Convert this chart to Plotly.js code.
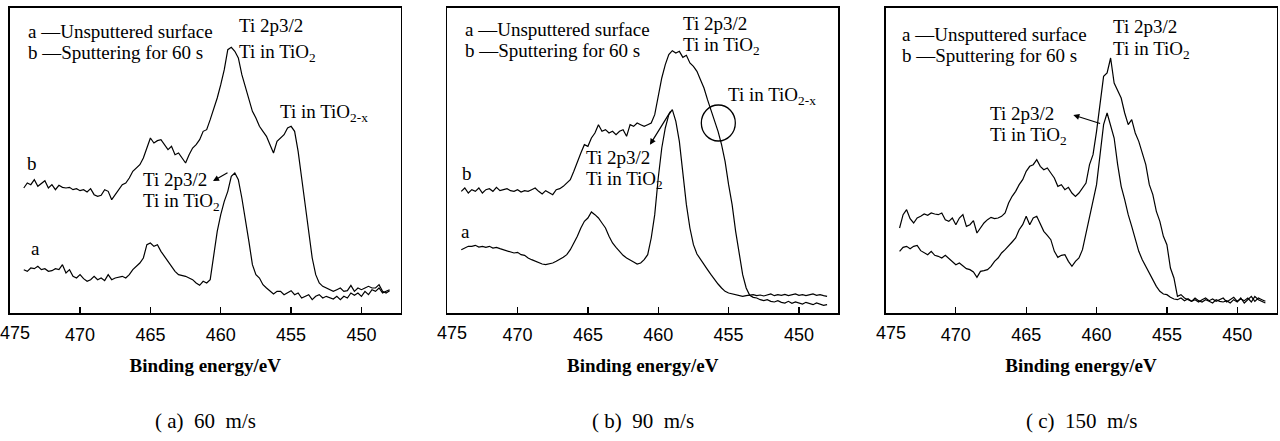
<!DOCTYPE html>
<html>
<head>
<meta charset="utf-8">
<script src="https://cdn.plot.ly/plotly-3.0.1.min.js"></script>
<style>html,body{margin:0;padding:0;background:#fff;}#chart{width:1280px;height:441px;}</style>
</head>
<body>
<div id="chart"></div>
<script>
// Binding energy grid (eV), shared by all spectra
const energy = [474,473.75,473.5,473.25,473,472.75,472.5,472.25,472,471.75,471.5,471.25,471,470.75,470.5,470.25,470,469.75,469.5,469.25,469,468.75,468.5,468.25,468,467.75,467.5,467.25,467,466.75,466.5,466.25,466,465.75,465.5,465.25,465,464.75,464.5,464.25,464,463.75,463.5,463.25,463,462.75,462.5,462.25,462,461.75,461.5,461.25,461,460.75,460.5,460.25,460,459.75,459.5,459.25,459,458.75,458.5,458.25,458,457.75,457.5,457.25,457,456.75,456.5,456.25,456,455.75,455.5,455.25,455,454.75,454.5,454.25,454,453.75,453.5,453.25,453,452.75,452.5,452.25,452,451.75,451.5,451.25,451,450.75,450.5,450.25,450,449.75,449.5,449.25,449,448.75,448.5,448.25,448];

// (a) 60 m/s
const a60_unsputtered = [130,125,135,133,140,130,133,125,127,133,130,145,120,130,110,105,115,103,95,100,110,100,105,97,115,100,105,107,110,105,115,130,140,150,165,205,210,200,205,185,170,155,140,125,115,113,110,105,100,90,83,95,90,100,175,245,295,335,365,410,420,400,345,285,215,145,115,105,85,75,65,57,65,65,55,60,67,55,60,45,50,55,40,50,55,45,50,47,42,50,40,50,45,60,53,60,50,65,55,70,65,75,60,65,70];
const a60_sputtered = [375,390,385,400,380,390,397,375,385,370,383,377,375,377,370,373,367,370,363,373,355,350,353,370,365,340,355,370,385,390,405,425,435,445,465,495,525,510,517,520,505,490,500,475,480,465,450,475,495,505,520,545,550,580,610,645,685,730,790,797,785,765,715,680,645,605,585,560,545,530,505,480,515,525,535,555,560,545,485,405,325,245,165,115,90,80,75,70,65,70,75,65,67,83,65,75,70,75,80,75,75,85,65,60,67];

// (b) 90 m/s
const b90_unsputtered = [190,195,200,200,203,198,200,197,200,195,197,193,190,187,185,180,182,175,173,165,160,155,150,147,145,147,150,155,160,167,175,190,210,230,255,275,285,303,295,285,270,255,230,210,197,185,173,165,160,153,147,150,160,175,225,295,405,495,555,595,610,575,515,425,325,255,205,177,160,145,130,115,100,87,75,65,60,58,55,53,50,52,53,55,52,54,51,55,57,52,55,53,56,52,54,57,53,55,52,55,57,53,55,52,50];
const b90_sputtered = [365,375,360,370,365,375,360,370,373,365,377,367,370,373,367,365,370,363,367,365,370,375,365,357,367,360,355,370,373,380,390,400,425,455,480,505,500,525,540,565,545,550,540,545,535,545,550,530,565,560,570,565,560,565,570,595,650,705,745,775,787,780,785,767,773,750,740,725,700,675,640,610,580,545,505,455,385,325,245,175,115,75,53,47,45,40,37,40,35,33,37,32,30,35,29,33,30,27,32,29,25,30,27,23,25];

// (c) 150 m/s
const c150_unsputtered = [185,197,200,193,200,203,187,180,175,185,173,170,165,173,163,155,145,150,140,133,130,123,107,125,127,130,140,155,165,180,190,200,213,225,250,265,290,265,285,290,265,245,233,220,185,167,173,175,155,140,155,165,190,240,280,330,385,475,565,600,565,525,445,380,340,295,260,220,185,160,140,120,100,80,65,57,55,47,42,40,45,37,43,35,40,33,40,45,37,42,35,40,45,33,40,47,35,42,37,45,33,50,40,35,30];
const c150_sputtered = [255,295,310,283,270,285,290,297,293,300,297,295,300,280,275,285,265,285,295,260,265,277,240,255,270,280,287,283,285,290,300,330,350,365,385,400,425,440,445,460,440,430,435,420,405,380,385,370,377,360,350,360,375,390,445,475,545,635,710,720,765,690,665,645,600,565,580,540,515,480,445,385,355,305,275,230,205,135,105,50,55,45,40,35,45,37,33,40,35,30,40,35,33,37,30,40,33,45,30,40,50,35,45,40,35];

const tickVals = [475,470,465,460,455,450];
const tickText = ['475','470','465','460','455','450'];
const captions = ['(\u00A0a)\u00A0\u00A060\u00A0\u00A0m/s','(\u00A0b)\u00A0\u00A090\u00A0\u00A0m/s','(\u00A0c)\u00A0\u00A0150\u00A0\u00A0m/s'];
const legendA = 'a \u2014Unsputtered surface';
const legendB = 'b \u2014Sputtering for 60 s';
const peakLine1 = 'Ti 2p3/2';
const peakLine2 = 'Ti in TiO<sub>2</sub>';
const subOxide = 'Ti in TiO<sub>2-x</sub>';
const axisTitle = 'Binding energy/eV';

const series = [
  [a60_unsputtered, a60_sputtered],
  [b90_unsputtered, b90_sputtered],
  [c150_unsputtered, c150_sputtered]
];

const W = 1280, H = 441;
const plotLeft = [9.7, 447.2, 885.5];
const plotW = 391;
const plotTop = 8, plotBottom = 313;
const xRange = [475, 475 - plotW / 14.07];
const yRange = [0, 915];

const serif = 'Liberation Serif, Times New Roman, serif';
const sans = 'Liberation Sans, Arial, sans-serif';

const traces = [];
const layout = {
  width: W, height: H,
  margin: {l: 0, r: 0, t: 0, b: 0},
  paper_bgcolor: '#fff', plot_bgcolor: '#fff',
  showlegend: false,
  annotations: [],
  shapes: []
};

series.forEach((pair, k) => {
  const xs = k === 0 ? 'x' : 'x' + (k + 1);
  const ys = k === 0 ? 'y' : 'y' + (k + 1);
  pair.forEach(vals => {
    traces.push({x: energy, y: vals, xaxis: xs, yaxis: ys, type: 'scatter', mode: 'lines',
      line: {color: '#000', width: 1.2}, hoverinfo: 'skip'});
  });
  const xk = k === 0 ? 'xaxis' : 'xaxis' + (k + 1);
  const yk = k === 0 ? 'yaxis' : 'yaxis' + (k + 1);
  layout[xk] = {
    domain: [plotLeft[k] / W, (plotLeft[k] + plotW) / W],
    range: xRange, anchor: ys,
    showgrid: false, zeroline: false,
    showline: true, mirror: true, linecolor: '#000', linewidth: 1.6,
    ticks: 'inside', ticklen: 6, tickwidth: 1.3, tickcolor: '#000',
    tickvals: tickVals.slice(1), ticktext: tickText.slice(1),
    tickfont: {family: sans, size: 18, color: '#000'},
    ticklabelstandoff: 5,
    title: {text: '<b>' + axisTitle + '</b>', font: {family: serif, size: 19, color: '#000'}, standoff: 14}
  };
  layout[yk] = {
    domain: [1 - plotBottom / H, 1 - plotTop / H],
    range: yRange, anchor: xs,
    showgrid: false, zeroline: false, showticklabels: false, ticks: '',
    showline: true, mirror: true, linecolor: '#000', linewidth: 1.6
  };
  // first tick label, nudged inside like the original
  layout.annotations.push({xref: xs, yref: 'paper', x: tickVals[0], y: (H - 333) / H,
    text: tickText[0], showarrow: false, xanchor: 'center', yanchor: 'middle', xshift: 5,
    font: {family: sans, size: 18, color: '#000'}});
  // caption
  layout.annotations.push({xref: 'paper', yref: 'paper', x: (plotLeft[k] + plotW / 2) / W, y: (H - 421) / H,
    text: captions[k], showarrow: false, xanchor: 'center', yanchor: 'middle',
    font: {family: serif, size: 21, color: '#000'}});
});

function txt(ax, x, y, text, anchor) {
  const xs = ax === 0 ? 'x' : 'x' + (ax + 1);
  const ys = ax === 0 ? 'y' : 'y' + (ax + 1);
  layout.annotations.push({xref: xs, yref: ys, x: x, y: y, text: text, showarrow: false,
    xanchor: anchor || 'left', yanchor: 'middle', font: {family: serif, size: 19, color: '#000'}});
}
function arrow(ax, x, y, dx, dy) {
  const xs = ax === 0 ? 'x' : 'x' + (ax + 1);
  const ys = ax === 0 ? 'y' : 'y' + (ax + 1);
  layout.annotations.push({xref: xs, yref: ys, x: x, y: y, text: '', showarrow: true,
    ax: dx, ay: dy, arrowhead: 2, arrowsize: 1, arrowwidth: 1.2, arrowcolor: '#000', standoff: 0, startstandoff: 0});
}

// Panel (a)
txt(0, 473.85, 843, legendA);
txt(0, 473.85, 780, legendB);
txt(0, 458.85, 861, peakLine1);
txt(0, 458.85, 780, peakLine2);
txt(0, 455.95, 600, subOxide);
txt(0, 473.41, 450, 'b', 'center');
txt(0, 473.2, 195, 'a', 'center');
txt(0, 465.7, 402, peakLine1);
txt(0, 465.7, 334, peakLine2);
arrow(0, 460.55, 396, 16, -9);

// Panel (b)
txt(1, 473.9, 849, legendA);
txt(1, 473.9, 786, legendB);
txt(1, 458.4, 867, peakLine1);
txt(1, 458.4, 801, peakLine2);
txt(1, 455.2, 651, subOxide);
txt(1, 473.61, 420, 'b', 'center');
txt(1, 473.73, 246, 'a', 'center');
txt(1, 465.3, 468, peakLine1);
txt(1, 465.3, 399, peakLine2);
arrow(1, 460.59, 505, 21.7, -35);
layout.shapes.push({type: 'circle', xref: 'x2', yref: 'y2', xsizemode: 'pixel', ysizemode: 'pixel',
  xanchor: 455.73, yanchor: 570, x0: -17, x1: 17, y0: -18, y1: 18, line: {color: '#000', width: 1.3}});

// Panel (c)
txt(2, 474.0, 834, legendA);
txt(2, 474.0, 771, legendB);
txt(2, 459.0, 858, peakLine1);
txt(2, 459.0, 789, peakLine2);
txt(2, 467.75, 600, peakLine1);
txt(2, 467.75, 531, peakLine2);
arrow(2, 461.65, 594, 28.3, 9);

Plotly.newPlot('chart', traces, layout, {displayModeBar: false, staticPlot: true});
</script>
</body>
</html>
